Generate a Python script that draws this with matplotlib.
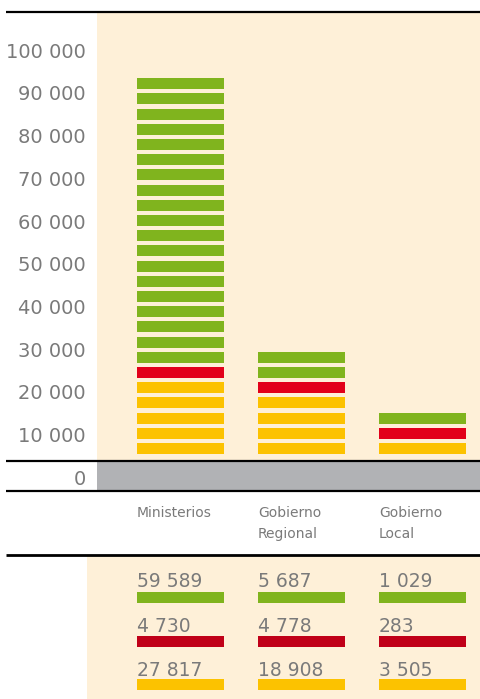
import matplotlib.pyplot as plt
from matplotlib.transforms import blended_transform_factory

# values
categories = ["Ministerios", "Gobierno\nRegional", "Gobierno\nLocal"]
green_vals = [59589, 5687, 1029]
red_vals = [4730, 4778, 283]
yellow_vals = [27817, 18908, 3505]

# number of stripes drawn per segment (stacked bottom to top: yellow, red, green)
yellow_stripes = [5, 4, 1]
red_stripes = [1, 1, 1]
green_stripes = [19, 2, 1]

y_ticks = [0, 10000, 20000, 30000, 40000, 50000, 60000, 70000, 80000, 90000, 100000]

GREEN = "#80B41E"
RED = "#E2001A"
RED_DARK = "#C00018"
YELLOW = "#FCC200"
CREAM = "#FEF0D8"
BAND = "#B1B2B5"
TEXT = "#7A7A7A"

W, H = 480, 699
fig = plt.figure(figsize=(W / 100, H / 100), dpi=100)
plt.rcParams["font.family"] = ["DejaVu Sans"]


def px_box(x0, y0, x1, y1):
    return [x0 / W, 1 - y1 / H, (x1 - x0) / W, (y1 - y0) / H]


def fmt(v):
    return f"{v:,}".replace(",", " ")


BAR_W = 0.719
LEFT = -0.3595  # left edge of a bar relative to its centre

# ---- main chart ----
ax = fig.add_axes(px_box(97, 12, 480, 491))
ax.set_xlim(-0.690, 2.475)
ax.set_ylim(-3158, 108889)
ax.set_facecolor(CREAM)
ax.axhspan(-3158, 3860, color=BAND, lw=0, zorder=1)

base, unit, thick = 5497, 3556, 2573
for i in range(len(categories)):
    k = 0
    for count, color in ((yellow_stripes[i], YELLOW), (red_stripes[i], RED),
                         (green_stripes[i], GREEN)):
        for _ in range(count):
            ax.bar(i, thick, bottom=base + k * unit, width=BAR_W, color=color,
                   linewidth=0, zorder=2)
            k += 1

ax.set_yticks(y_ticks)
ax.set_yticklabels([fmt(v) for v in y_ticks], fontsize=14, color=TEXT)
ax.tick_params(axis="y", length=0, pad=8)
ax.set_xticks([])
for s in ax.spines.values():
    s.set_visible(False)

trans = blended_transform_factory(ax.transAxes, ax.transData)
for y in (108889, 3860, -3158):
    ax.plot([-0.2376, 1], [y, y], color="black", lw=1.6, transform=trans,
            clip_on=False, zorder=5, solid_capstyle="butt")

# ---- labels + table ----
ax2 = fig.add_axes(px_box(87, 491, 480, 699))
ax2.set_xlim((87 - 180.5) / 121, 2.475)
ax2.set_ylim(699, 491)
ax2.axis("off")
ax2.axhspan(556, 699, color=CREAM, lw=0, zorder=0)
trans2 = blended_transform_factory(ax2.transAxes, ax2.transData)
ax2.plot([(6 - 87) / 393, 1], [555, 555], color="black", lw=2.0,
         transform=trans2, clip_on=False, zorder=5, solid_capstyle="butt")

for i, name in enumerate(categories):
    for j, line in enumerate(name.split("\n")):
        ax2.text(i + LEFT, 517 + 21 * j, line, fontsize=10, color=TEXT,
                 ha="left", va="baseline")

rows = [(green_vals, GREEN, 587, 592), (red_vals, RED_DARK, 632, 636),
        (yellow_vals, YELLOW, 676, 679)]
for vals, color, text_y, bar_y in rows:
    for i, v in enumerate(vals):
        ax2.text(i + LEFT, text_y, fmt(v), fontsize=13.5, color=TEXT,
                 ha="left", va="baseline")
        ax2.bar(i, 11, bottom=bar_y, width=BAR_W, color=color, linewidth=0)

fig.savefig("out.png", dpi=100)
